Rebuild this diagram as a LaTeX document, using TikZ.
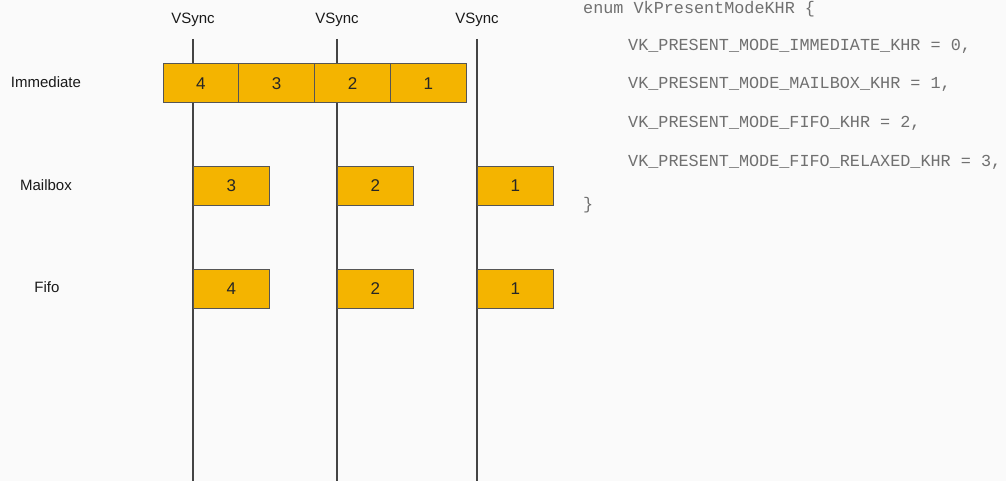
\documentclass[tikz,border=0pt]{standalone}
\usepackage{fontspec}
\setmainfont{Liberation Sans}
\newfontfamily\codefont{Liberation Mono}
\definecolor{bg}{HTML}{FAFAFA}
\definecolor{frameyellow}{HTML}{F4B400}
\definecolor{edge}{HTML}{555555}
\definecolor{vline}{HTML}{444444}
\definecolor{codegray}{HTML}{707070}
\begin{document}
\begin{tikzpicture}[x=1pt,y=-1pt,
  frame/.style={draw=edge,line width=1pt,fill=frameyellow,minimum width=75.8pt,minimum height=39pt,inner sep=0pt,font=\fontsize{17}{20}\selectfont,text=black!85},
  vsyncline/.style={draw=vline,line width=1.1pt},
  lbl/.style={font=\fontsize{15}{18}\selectfont,text=black!90,inner sep=0pt},
  code/.style={font=\codefont\fontsize{16.8}{20}\selectfont,text=codegray,anchor=base west,inner sep=0pt}]
  \fill[bg] (0,0) rectangle (1006,481);
  \useasboundingbox (0,0) rectangle (1006,481);

  % vsync lines
  \foreach \n/\x in {a/193,b/337,c/477}{
    \coordinate (top\n) at (\x,39);
    \coordinate (bot\n) at (\x,481);
    \draw[vsyncline] (top\n) -- (bot\n);
    \node[lbl] (vs\n) at (\x,20) {VSync};
  }

  % row labels
  \node[lbl] (limm) at (46,82) {Immediate};
  \node[lbl] (lmail) at (46,185) {Mailbox};
  \node[lbl] (lfifo) at (47,287) {Fifo};

  % Immediate: four frames back to back
  \node[frame] (i4) at (200.9,83.5) {4};
  \node[frame] (i3) at (276.7,83.5) {3};
  \node[frame] (i2) at (352.5,83.5) {2};
  \node[frame] (i1) at (428.3,83.5) {1};

  % Mailbox
  \node[frame,anchor=west] (m3) at (193,186) {3};
  \node[frame,anchor=west] (m2) at (337,186) {2};
  \node[frame,anchor=west] (m1) at (477,186) {1};

  % Fifo
  \node[frame,anchor=west] (f4) at (193,288.5) {4};
  \node[frame,anchor=west] (f2) at (337,288.5) {2};
  \node[frame,anchor=west] (f1) at (477,288.5) {1};

  % enum listing
  \node[code] (c0) at (583,14) {enum VkPresentModeKHR \{};
  \node[code] (c1) at (628,51) {VK\_PRESENT\_MODE\_IMMEDIATE\_KHR = 0,};
  \node[code] (c2) at (628,89) {VK\_PRESENT\_MODE\_MAILBOX\_KHR = 1,};
  \node[code] (c3) at (628,128) {VK\_PRESENT\_MODE\_FIFO\_KHR = 2,};
  \node[code] (c4) at (628,167) {VK\_PRESENT\_MODE\_FIFO\_RELAXED\_KHR = 3,};
  \node[code] (c5) at (583,209) {\}};
\end{tikzpicture}
\end{document}
